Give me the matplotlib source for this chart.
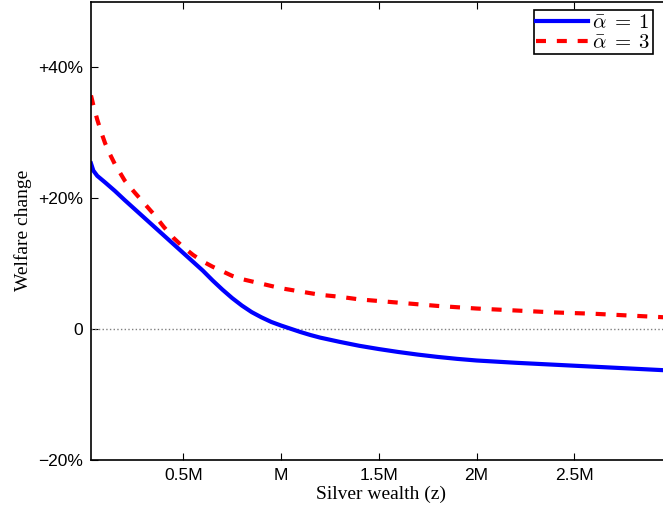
import numpy as np
import matplotlib
matplotlib.use('Agg')
import matplotlib.pyplot as plt

plt.rcParams['mathtext.fontset'] = 'cm'

# silver wealth (millions) and welfare change (%)
z1 = [0.028, 0.04, 0.06, 0.08, 0.1, 0.15, 0.2, 0.3, 0.4, 0.5, 0.6, 0.65, 0.7, 0.75,
      0.8, 0.85, 0.9, 0.95, 1.0, 1.05, 1.1, 1.15, 1.2, 1.3, 1.4, 1.5, 1.6, 1.7, 1.8,
      1.9, 2.0, 2.2, 2.4, 2.6, 2.8, 3.0]
alpha1 = [25.3, 24.2, 23.4, 22.9, 22.4, 21.1, 19.7, 17.0, 14.3, 11.6, 8.9, 7.4, 6.0, 4.7,
          3.55, 2.55, 1.75, 1.05, 0.5, 0.0, -0.5, -0.95, -1.35, -2.0, -2.6, -3.1, -3.55, -3.95, -4.3,
          -4.6, -4.85, -5.2, -5.5, -5.8, -6.1, -6.4]

z3 = [0.028, 0.04, 0.06, 0.08, 0.1, 0.125, 0.15, 0.2, 0.25, 0.3, 0.35, 0.4, 0.45, 0.5,
      0.55, 0.6, 0.65, 0.7, 0.75, 0.8, 0.9, 1.0, 1.1, 1.2, 1.3, 1.4, 1.6, 1.8, 2.0,
      2.2, 2.4, 2.6, 2.8, 3.0]
alpha3 = [35.7, 34.2, 32.0, 30.1, 28.4, 26.7, 25.2, 22.7, 20.9, 19.2, 17.5, 15.6, 13.9, 12.5,
          11.3, 10.3, 9.5, 8.8, 8.1, 7.6, 6.9, 6.2, 5.7, 5.2, 4.9, 4.5, 4.0, 3.5, 3.1,
          2.8, 2.5, 2.3, 2.0, 1.7]

xticks = [0.5, 1.0, 1.5, 2.0, 2.5]
xticklabels = ['0.5M', 'M', '1.5M', '2M', '2.5M']
yticks = [-20, 0, 20, 40]
yticklabels = ['\u221220%', '0', '+20%', '+40%']

fig = plt.figure(figsize=(6.63, 5.12), dpi=100)
ax = fig.add_axes([91/663, (512-459.5)/512, 581/663, 457.5/512])

ax.axhline(0, color='gray', linestyle=':', linewidth=1)
ax.plot(z1, alpha1, color='blue', linewidth=3, label=r'$\bar{\alpha}\;=\;1$')
ax.plot(z3, alpha3, color='red', linewidth=3, dashes=(2.4, 2.6), label=r'$\bar{\alpha}\;=\;3$')

ax.set_xlim(0.028, 3.0)
ax.set_ylim(-20, 50)
ax.set_xticks(xticks)
ax.set_xticklabels(xticklabels, family='Liberation Sans', fontsize=12.5)
ax.set_yticks(yticks)
ax.set_yticklabels(yticklabels, family='Liberation Sans', fontsize=12.5)
ax.tick_params(direction='in', length=5, top=True, right=True, width=0.8, pad=6)
for s in ax.spines.values():
    s.set_linewidth(1.2)

ax.set_xlabel('Silver wealth (z)', family='Liberation Serif', fontsize=14, labelpad=2)
ax.set_ylabel('Welfare change', family='Liberation Serif', fontsize=14, labelpad=4)

# the original legend box runs past the cropped right edge
leg = ax.legend(loc='upper left', bbox_to_anchor=(0.7625, 0.9825), fontsize=15,
                fancybox=False, framealpha=1, edgecolor='black', borderaxespad=0,
                handlelength=2.5, handletextpad=0.2, borderpad=0.1, labelspacing=0.0)
leg.get_frame().set_linewidth(1.2)
fig.canvas.draw()
bb = leg.get_frame().get_bbox()
leg.get_frame().set_width(bb.width + 20)

plt.savefig('out.png', dpi=100)
